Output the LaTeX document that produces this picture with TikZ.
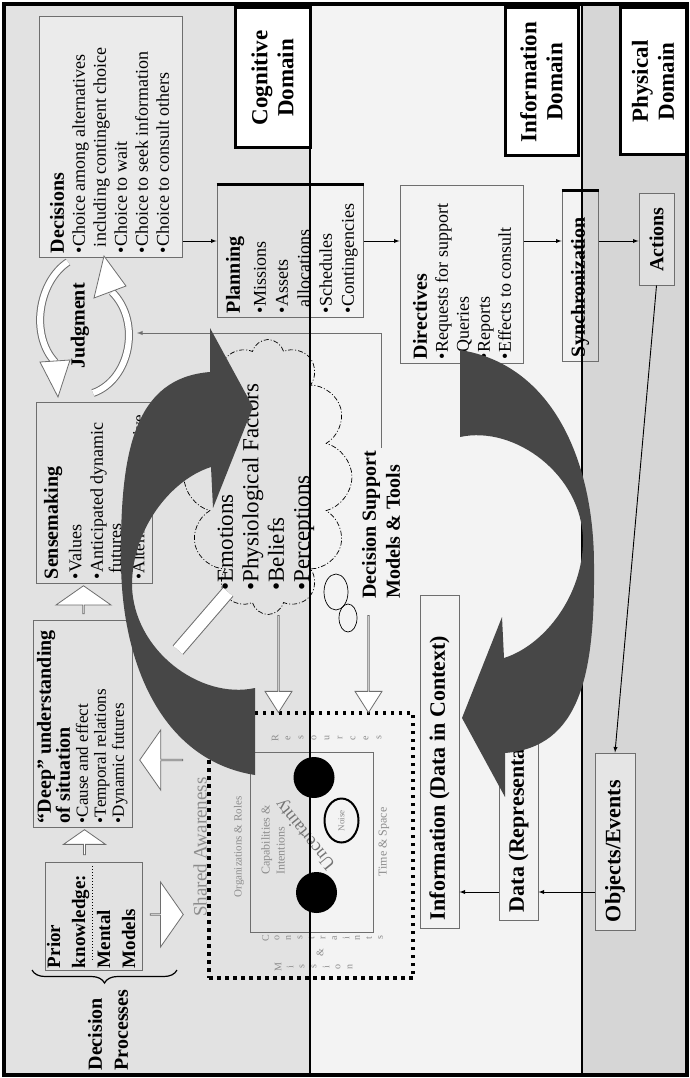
\documentclass[tikz,border=0pt]{standalone}
\usepackage{fontspec}
\setmainfont{Liberation Serif}
\usetikzlibrary{shapes.symbols,shapes.arrows,decorations.pathreplacing,positioning}

\definecolor{cogbg}{HTML}{E2E2E2}
\definecolor{infobg}{HTML}{F3F3F3}
\definecolor{physbg}{HTML}{D6D6D6}
\definecolor{bigarrow}{HTML}{474747}
\definecolor{frameline}{HTML}{6E6E6E}

\newcommand{\panel}[4][t]{\parbox[c][#3pt][#1]{#2pt}{\raggedright #4}}
\newcommand{\hd}{\fontsize{20}{21}\selectfont\bfseries}
\newcommand{\bt}{\fontsize{18}{21}\selectfont}

\tikzset{
  box/.style={draw=frameline, line width=1pt, rotate=90, inner sep=4pt},
  domainbox/.style={draw=black, line width=3pt, fill=white, rotate=90, inner sep=0pt, align=center, font=\fontsize{23}{26}\selectfont\bfseries},
  link/.style={->, line width=0.9pt},
  hollow/.style={single arrow, draw=frameline, fill=white, line width=0.8pt, inner sep=0pt, single arrow tip angle=110},
  faint/.style={text=black!45, rotate=90, inner sep=0pt},
  arcband/.style={line width=8pt, draw=frameline},
  arcfill/.style={line width=6pt, draw=white}
}

\begin{document}
\begin{tikzpicture}[x=1pt, y=-1pt, >=latex]
    \useasboundingbox (0,0) rectangle (689,1078);

    % domains
    \fill[cogbg] (4,4) rectangle (310,1075);
    \fill[infobg] (310,4) rectangle (582,1075);
    \fill[physbg] (582,4) rectangle (689,1075);

    \node[domainbox, minimum width=140, minimum height=75] (cogdom) at (272.5,78) {Cognitive\\Domain};
    \node[domainbox, minimum width=148, minimum height=73] (infodom) at (541.5,82) {Information\\Domain};
    \node[domainbox, minimum width=147, minimum height=66] (physdom) at (653,81.5) {Physical\\Domain};

    % decision chain
    \node[box, fill=black!8] (decide) at (110.5,137) {\panel{232}{135}{\vspace*{7pt}{\hd Decisions}\\ \bt \textbullet Choice among alternatives\\ \hspace*{6pt}including contingent choice\\ \textbullet Choice to wait\\ \textbullet Choice to seek information\\ \textbullet Choice to consult others}};
    \node[box] (plan) at (290,251) {\panel{124}{138}{\vspace*{5pt}{\hd Planning}\\[4pt] \fontsize{18}{22}\selectfont \textbullet Missions\\ \textbullet Assets\\ \hspace*{6pt}allocations\\ \textbullet Schedules\\ \textbullet Contingencies}};
    \node[box] (direct) at (461.5,274.5) {\panel{169}{115}{\vspace*{9pt}{\hd Directives}\\ \bt \textbullet Requests for support\\ \textbullet Queries\\ \textbullet Reports\\ \textbullet Effects to consult}};
    \node[box, inner sep=0pt] (sync) at (580,276) {\panel[c]{170}{36}{\hspace*{4pt}\hd Synchronization}};
    \node[box, fill=black!12, inner sep=0pt] (act) at (656.5,239.5) {\panel[c]{91}{35}{\centering\hd Actions}};
    \draw[line width=2.5pt] (plan.north east) -- (plan.south east);
    \draw[line width=2.5pt] (sync.north east) -- (sync.south east);

    \coordinate (flowrow) at (0,241);
    \draw[link] (decide.south |- flowrow) -- (plan.north |- flowrow);
    \draw[link] (plan.south |- flowrow) -- (direct.north |- flowrow);
    \draw[link] (direct.south |- flowrow) -- (sync.north |- flowrow);
    \draw[link] (sync.south |- flowrow) -- (act.north |- flowrow);

    % sensing chain
    \node[box] (sense) at (94,492.5) {\panel{173}{108}{\vspace*{4pt}{\hd Sensemaking}\\[2pt] \fontsize{18}{21.5}\selectfont \textbullet Values\\ \textbullet Anticipated dynamic\\[-3pt] \hspace*{6pt}futures\\ \fontsize{17}{23}\selectfont\textbullet Alternative perspective}};
    \node[box] (deep) at (82.5,723.5) {\panel{199}{91}{\fontsize{20}{19}\selectfont\bfseries ``Deep'' understanding\\ of situation\\ \fontsize{17}{18}\mdseries\selectfont \textbullet Cause and effect\\ \textbullet Temporal relations\\ \textbullet Dynamic futures}};
    \node[box, inner sep=2pt] (prior) at (93.5,916) {\panel{104}{93}{\fontsize{19}{25}\selectfont\bfseries Prior\\ knowledge:\\ Mental\\ Models}};
    \draw[dotted, line width=1pt] (92,866) -- (92,960);
    \draw[decorate, decoration={brace, amplitude=13pt}, line width=1.2pt] (177,970) -- (32,970);
    \node[rotate=90, align=left, font=\fontsize{20}{26}\selectfont\bfseries] (process) at (108,1030) {Decision\\Processes};
    \node[rotate=90, font=\hd] (judge) at (80,326) {Judgment};

    % judgment loop
    \draw[arcband] (68,262) .. controls (38,282) and (30,335) .. (55,362);
    \draw[arcfill] (68,262) .. controls (38,282) and (30,335) .. (55,362);
    \filldraw[fill=white, draw=frameline, line width=0.8pt] (40,362) -- (70,360) -- (58,397) -- cycle;
    \draw[arcband] (93,393) .. controls (130,380) and (142,322) .. (112,292);
    \draw[arcfill] (93,393) .. controls (130,380) and (142,322) .. (112,292);
    \filldraw[fill=white, draw=frameline, line width=0.8pt] (94,298) -- (126,286) -- (104,256) -- cycle;

    % information chain
    \node[box] (info) at (439.5,761.5) {\panel[c]{325}{31}{\hspace*{4pt}\fontsize{22}{24}\selectfont\bfseries Information (Data in Context)}};
    \node[box] (data) at (518.5,800) {\panel[c]{232}{31}{\hspace*{4pt}\fontsize{22}{24}\selectfont\bfseries Data (Representations)}};
    \node[box, fill=black!10] (obj) at (615,841.5) {\panel[c]{169}{32}{\hspace*{4pt}\fontsize{22}{24}\selectfont\bfseries Objects/Events}};
    \coordinate (datarow) at (0,892);
    \draw[link] (obj.north |- datarow) -- (data.south |- datarow);
    \draw[link] (data.north |- datarow) -- (info.south |- datarow);
    \draw[link] (act.west) -- (obj.east);

    % mind and support
    \node[cloud, cloud puffs=12, aspect=1.6, draw, line width=0.7pt, dash pattern=on 5pt off 2pt on 1pt off 2pt, rotate=90, minimum width=275, minimum height=168] (mind) at (268,477) {};
    \node[rotate=90, anchor=west, align=left, font=\fontsize{23}{25.5}\selectfont] (mindtext) at (266,594) {\textbullet Emotions\\\textbullet Physiological Factors\\\textbullet Beliefs\\\textbullet Perceptions};
    \draw[line width=0.7pt] (336,592) ellipse [x radius=12, y radius=18];
    \draw[line width=0.7pt] (348,618) ellipse [x radius=9, y radius=14];
    \node[rotate=90, anchor=west, align=left, font=\fontsize{20}{24}\selectfont\bfseries] (support) at (381,602) {Decision Support\\Models \& Tools};
    \coordinate (judgein) at (137,333);
    \draw[link, draw=frameline] (support.east) |- (judgein);
    \draw[line width=14pt, frameline] (228,592) -- (178,650);
    \draw[line width=12pt, white] (228,592) -- (178,650);

    % shared awareness
    \node[draw, line width=3.5pt, dash pattern=on 3.5pt off 4.5pt, minimum width=204, minimum height=265] (shared) at (311,845.5) {};
    \node[faint, font=\fontsize{19}{21}\selectfont] (sharedlbl) at (200,847) {Shared Awareness};
    \node[draw=frameline, line width=1pt, minimum width=123, minimum height=180] (situation) at (311.5,842) {};
    \node[circle, fill=black, minimum size=41, inner sep=0pt] (blobA) at (314,777.5) {};
    \node[circle, fill=black, minimum size=41, inner sep=0pt] (blobB) at (316.5,892.5) {};
    \draw[line width=2pt] (341.5,820.5) ellipse [x radius=17, y radius=22];
    \node[faint, font=\fontsize{9}{9}\selectfont] (noise) at (341.5,820.5) {Noise};
    \node[text=black!55, rotate=129, font=\fontsize{18}{18}\selectfont, inner sep=0pt] (unc) at (306,834) {Uncertainty};
    \node[faint, font=\fontsize{11}{12}\selectfont] (roles) at (239,847) {Organizations \& Roles};
    \node[faint, align=left, font=\fontsize{12}{15}\selectfont] (capab) at (273,840) {Capabilities \&\\Intentions};
    \node[faint, font=\fontsize{12}{12}\selectfont] (timespace) at (384,842) {Time \& Space};
    \foreach \ch [count=\i] in {R,e,s,o,u,r,c,e,s}
        \node[faint, font=\fontsize{10}{10}\selectfont] (top\i) at (262+\i*13,738) {\ch};
    \foreach \ch [count=\i] in {C,o,n,s,t,r,a,i,n,t,s}
        \node[faint, font=\fontsize{10}{10}\selectfont] (low\i) at (254+\i*11.5,938) {\ch};
    \node[faint, font=\fontsize{10}{10}\selectfont] (lowamp) at (320,953) {\&};
    \foreach \ch [count=\i] in {M,i,s,s,i,o,n}
        \node[faint, font=\fontsize{10}{10}\selectfont] (mis\i) at (266+\i*12,967) {\ch};

    % hollow arrows
    \node[hollow, rotate=90, minimum height=28, minimum width=55, single arrow head extend=14] (upA) at (83.5,600) {};
    \node[hollow, rotate=90, minimum height=25, minimum width=42, single arrow head extend=8.5] (upB) at (84.5,842.5) {};
    \node[hollow, rotate=180, minimum height=43, minimum width=60, single arrow head extend=14] (leftA) at (161.5,760) {};
    \node[hollow, minimum height=33, minimum width=65, single arrow head extend=16] (rightA) at (166.5,914.5) {};
    \node[hollow, rotate=-90, minimum height=97, minimum width=27, single arrow head extend=7, single arrow tip angle=65] (downA) at (278.5,663.5) {};
    \node[hollow, rotate=-90, minimum height=97, minimum width=27, single arrow head extend=7, single arrow tip angle=65] (downB) at (368.5,663.5) {};

    % boundaries
    \draw[line width=1.8pt] (310,4) -- (310,1075);
    \draw[line width=1.8pt] (582,4) -- (582,1075);

    % cycle arrows
    \fill[bigarrow] (255,775) .. controls (160,760) and (121,660) .. (121,560) .. controls (120,450) and (135,378) .. (210,372) -- (210,328) -- (253,407) -- (213,508) -- (211,467) .. controls (170,480) and (132,530) .. (132,585) .. controls (133,650) and (200,700) .. (255,688) -- cycle;
    \fill[bigarrow] (460,350) .. controls (555,365) and (594,465) .. (594,565) .. controls (595,675) and (580,747) .. (505,753) -- (505,797) -- (462,718) -- (502,617) -- (504,658) .. controls (545,645) and (583,595) .. (583,540) .. controls (582,475) and (515,425) .. (460,437) -- cycle;

    \draw[line width=3.5pt] (4,4) rectangle (687,1075);
\end{tikzpicture}
\end{document}
